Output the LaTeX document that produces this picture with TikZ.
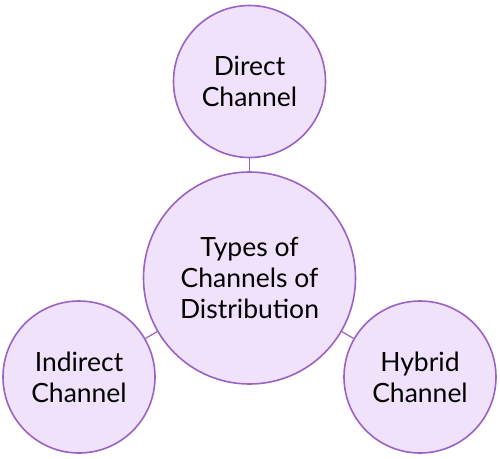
\documentclass[tikz,border=0pt]{standalone}
\usepackage{fontspec}
\setmainfont{Lato}
\definecolor{cfill}{HTML}{F0E2FA}
\definecolor{cline}{HTML}{9A62C4}
\begin{document}
\begin{tikzpicture}[x=1pt,y=-1pt,
  bubble/.style={circle, draw=cline, fill=cfill, line width=1.6pt, inner sep=0pt, align=center,
    font=\fontsize{26.5}{31}\selectfont, text=black},
  link/.style={draw=cline, line width=1.2pt}]
\useasboundingbox (0,0) rectangle (500,458);
\node[bubble, minimum size=152pt] (top) at (249.5,81.5) {Direct\\Channel};
\node[bubble, minimum size=212pt] (mid) at (249.5,278) {Types of\\Channels of\\Distribu\kern0pt tion};
\node[bubble, minimum size=152pt] (left) at (79,377) {Indirect\\Channel};
\node[bubble, minimum size=152pt] (right) at (420,377) {Hybrid\\Channel};
\draw[link] (top) -- (mid);
\draw[link] (mid) -- (left);
\draw[link] (mid) -- (right);
\end{tikzpicture}
\end{document}
